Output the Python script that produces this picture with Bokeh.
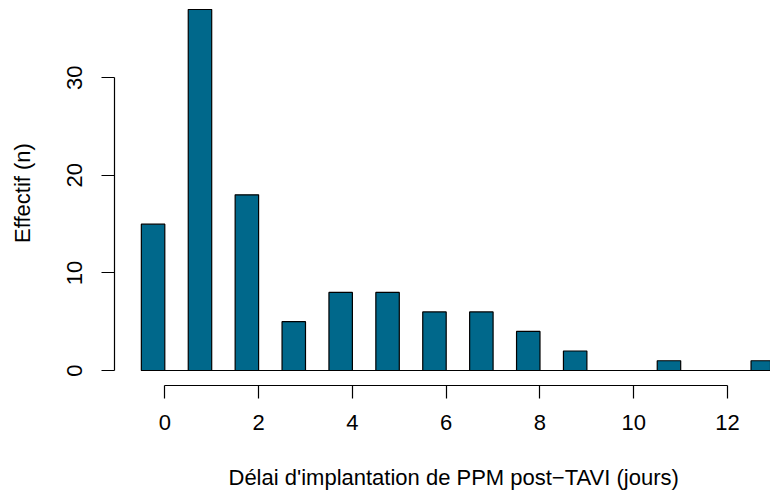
import numpy as np
from bokeh.plotting import figure
from bokeh.models import FixedTicker, Title
from bokeh.embed import file_html
from bokeh.resources import INLINE

# Data
days = [0, 1, 2, 3, 4, 5, 6, 7, 8, 9, 10, 11, 12, 13]
counts = [15, 37, 18, 5, 8, 8, 6, 6, 4, 2, 0, 1, 0, 1]
x_ticks = [0, 2, 4, 6, 8, 10, 12]
y_ticks = [0, 10, 20, 30]
x_title = "Délai d'implantation de PPM post\u2212TAVI (jours)"
y_title = "Effectif (n)"

FONT = "Liberation Sans"
FS = "22px"
BAR_COLOR = "#00688B"

p = figure(width=770, height=493, output_backend="svg", toolbar_location=None,
           x_range=(-1.0725, 12.915), y_range=(-1.537, 37.92),
           min_border_left=114, min_border_right=0, min_border_top=0,
           min_border_bottom=108)
p.outline_line_color = None
p.xgrid.visible = False
p.ygrid.visible = False
p.background_fill_color = "white"
p.border_fill_color = "white"

# bars: each bar spans [d-0.5, d]
bar_x = [d - 0.25 for d in days]
p.vbar(x=bar_x, width=0.5, top=counts, bottom=0,
       fill_color=BAR_COLOR, line_color="black", line_width=1.2)
# baseline
p.line(x=[days[0] - 0.5, days[-1] + 0.5], y=[0, 0], line_color="black", line_width=1.2)

for ax, ticks, bounds in ((p.xaxis, x_ticks, (x_ticks[0], x_ticks[-1])),
                          (p.yaxis, y_ticks, (y_ticks[0], y_ticks[-1]))):
    ax.ticker = FixedTicker(ticks=ticks)
    ax.bounds = bounds
    ax.minor_tick_line_color = None
    ax.major_tick_in = 0
    ax.major_tick_out = 13
    ax.axis_line_color = "black"
    ax.axis_line_width = 1.2
    ax.major_tick_line_width = 1.2
    ax.major_label_text_font = FONT
    ax.major_label_text_font_size = FS
    ax.major_label_text_color = "black"

p.xaxis.major_label_standoff = 16
p.yaxis.major_label_standoff = 19
p.yaxis.major_label_orientation = "vertical"

p.yaxis.axis_label = y_title
p.yaxis.axis_label_text_font = FONT
p.yaxis.axis_label_text_font_size = FS
p.yaxis.axis_label_text_font_style = "normal"
p.yaxis.axis_label_text_color = "black"
p.yaxis.axis_label_standoff = 30

p.add_layout(Title(text=x_title, align="left", offset=114, standoff=0,
                   padding=dict(top=30, bottom=0, left=0, right=0),
                   text_font=FONT, text_font_size=FS, text_font_style="normal",
                   text_color="black"), "below")

open("out.html", "w").write(file_html(p, INLINE))
